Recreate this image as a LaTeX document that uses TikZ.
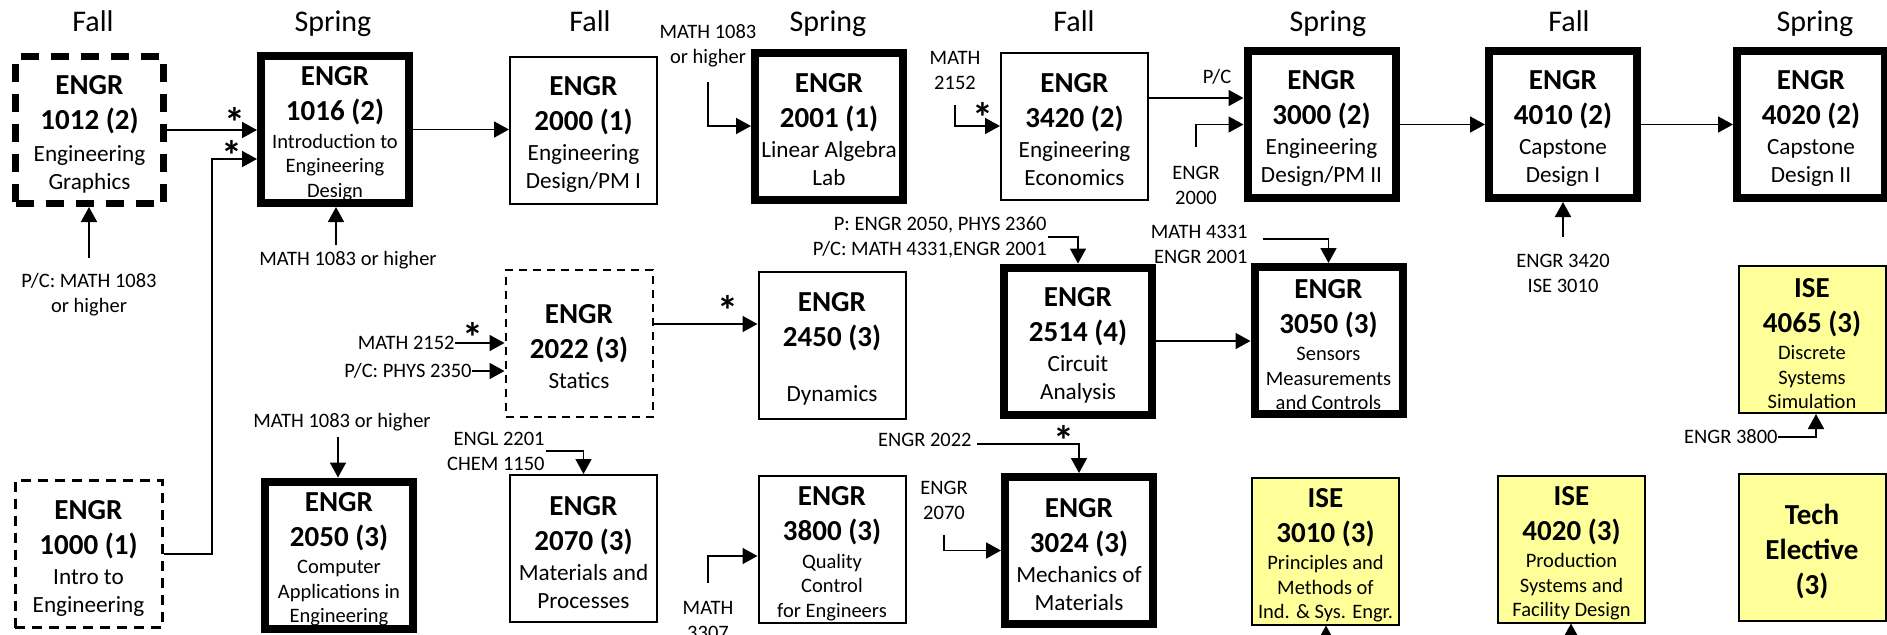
\documentclass[tikz,border=0pt]{standalone}
\usepackage{fontspec}
\setmainfont{Carlito}
\usetikzlibrary{arrows.meta,calc}
\definecolor{iseyellow}{RGB}{255,255,153}
\newcommand\ttlf{\fontsize{14.5}{17.5}\selectfont\bfseries}
\newcommand\suba{\fontsize{11.6}{14}\selectfont\mdseries}
\newcommand\subb{\fontsize{10.25}{12.25}\selectfont\mdseries}
\newcommand\bxt[1]{\raisebox{-2pt}[\height][\depth]{\parbox{72pt}{\centering #1\par}}}
\newcommand\gapa{\par\vspace{1pt}}
\newcommand\gapb{\par\vspace{1.5pt}}
\tikzset{
  box/.style={draw, minimum width=73.5pt, minimum height=73.5pt, inner sep=0pt, line width=1pt},
  heavybox/.style={box, line width=4pt, minimum width=74pt},
  isebox/.style={box, fill=iseyellow},
  dashheavy/.style={box, line width=3.5pt, minimum width=74pt, dash pattern=on 9pt off 6pt},
  dashmid/.style={box, line width=1.5pt, dash pattern=on 5pt off 3.5pt},
  dashthin/.style={box, line width=1pt, dash pattern=on 4pt off 3pt},
  lbl/.style={inner sep=0pt, font=\fontsize{10.25}{12.5}\selectfont, align=center},
  sem/.style={inner sep=0pt, font=\fontsize{15}{18}\selectfont, anchor=base},
  arr/.style={line width=0.9pt, -{Triangle[length=7.5pt,width=8pt]}},
  astk/.style={inner sep=0pt, font=\fontsize{21}{21}\selectfont\bfseries},
}
\begin{document}
\begin{tikzpicture}[x=0.5pt,y=-0.5pt]
\useasboundingbox (0,0) rectangle (1887,634);
% semester labels
\node[sem] (s1) at (93,31.5) {Fall};
\node[sem] (s2) at (333,31.5) {Spring};
\node[sem] (s3) at (590,31.5) {Fall};
\node[sem] (s4) at (828,31.5) {Spring};
\node[sem] (s5) at (1074,31.5) {Fall};
\node[sem] (s6) at (1328,31.5) {Spring};
\node[sem] (s7) at (1569,31.5) {Fall};
\node[sem] (s8) at (1815,31.5) {Spring};
% row 1
\node[dashheavy] (e1012) at (89.5,130) {\bxt{\ttlf ENGR\par 1012 (2)\par\vspace{2pt}\suba Engineering\par Graphics}};
\node[heavybox] (e1016) at (335,129.5) {\bxt{\ttlf ENGR\par 1016 (2)\gapb\subb Introduction to\par Engineering\par Design}};
\node[box] (e2000) at (583.5,130) {\bxt{\ttlf ENGR\par 2000 (1)\gapa\suba Engineering\par Design/PM I}};
\node[heavybox] (e2001) at (829,126) {\bxt{\ttlf ENGR\par 2001 (1)\gapa\suba Linear Algebra\par Lab}};
\node[box] (e3420) at (1074.5,126) {\bxt{\ttlf ENGR\par 3420 (2)\gapa\suba Engineering\par Economics}};
\node[heavybox] (e3000) at (1321.5,124.5) {\bxt{\ttlf ENGR\par 3000 (2)\gapa\suba Engineering\par Design/PM II}};
\node[heavybox] (e4010) at (1563,124.5) {\bxt{\ttlf ENGR\par 4010 (2)\gapa\suba Capstone\par Design I}};
\node[heavybox] (e4020) at (1811,124) {\bxt{\ttlf ENGR\par 4020 (2)\gapa\suba Capstone\par Design II}};
% row 2
\node[dashthin] (e2022) at (579,343) {\bxt{\ttlf ENGR\par 2022 (3)\gapa\suba Statics}};
\node[box] (e2450) at (832,345) {\bxt{\ttlf ENGR\par 2450 (3)\par\vspace{13.5pt}\suba Dynamics}};
\node[heavybox] (e2514) at (1078,341) {\bxt{\ttlf ENGR\par 2514 (4)\gapa\suba Circuit\par Analysis}};
\node[heavybox] (e3050) at (1328.5,340.5) {\bxt{\ttlf ENGR\par 3050 (3)\gapb\subb Sensors\par Measurements\par and Controls}};
\node[isebox] (i4065) at (1812,339.5) {\bxt{\ttlf ISE\par 4065 (3)\gapb\subb Discrete\par Systems\par Simulation}};
% row 3
\node[dashmid] (e1000) at (88.5,554) {\bxt{\ttlf ENGR\par 1000 (1)\gapa\suba Intro to\par Engineering}};
\node[heavybox] (e2050) at (339,555) {\bxt{\ttlf ENGR\par 2050 (3)\gapb\subb Computer\par Applications in\par Engineering}};
\node[box] (e2070) at (583.5,548.5) {\bxt{\ttlf ENGR\par 2070 (3)\gapa\suba Materials and\par Processes}};
\node[box] (e3800) at (832,549.5) {\bxt{\ttlf ENGR\par 3800 (3)\gapb\subb Quality\par Control\par for Engineers}};
\node[heavybox] (e3024) at (1079,550.5) {\bxt{\ttlf ENGR\par 3024 (3)\gapa\suba Mechanics of\par Materials}};
\node[isebox] (i3010) at (1325.5,551) {\bxt{\ttlf ISE\par 3010 (3)\gapb\subb Principles and\par Methods of\par Ind. \& Sys. Engr.}};
\node[isebox] (i4020) at (1571.5,549) {\bxt{\ttlf ISE\par 4020 (3)\gapb\subb Production\par Systems and\par Facility Design}};
\node[isebox] (tech) at (1812,547.5) {\bxt{\ttlf Tech\par Elective\par (3)}};
% labels
\node[lbl] (l1012) at (89,295) {P/C: MATH 1083\\or higher};
\node[lbl] (l1016) at (348,260) {MATH 1083 or higher};
\node[lbl] (l2001) at (708,46) {MATH 1083\\or higher};
\node[lbl] (l3420) at (955,70) {MATH\\2152};
\node[lbl] (lpc) at (1217,77) {P/C};
\node[lbl] (l3000) at (1196,185) {ENGR\\2000};
\node[lbl] (l4010) at (1563,273) {ENGR 3420\\ISE 3010};
\node[lbl, align=right, anchor=east] (l2514) at (1047,237) {P: ENGR 2050, PHYS 2360\\P/C: MATH 4331,ENGR 2001};
\node[lbl, align=right, anchor=east] (l3050) at (1248,244) {MATH 4331\\ENGR 2001};
\node[lbl, anchor=east] (lm2152) at (455,343) {MATH 2152};
\node[lbl, anchor=east] (lphys) at (472,371) {P/C: PHYS 2350};
\node[lbl] (l2050) at (342,422) {MATH 1083 or higher};
\node[lbl, align=right, anchor=east] (l2070) at (545,451) {ENGL 2201\\CHEM 1150};
\node[lbl] (l3800) at (708,620) {MATH\\3307};
\node[lbl, anchor=east] (l3024a) at (972,440) {ENGR 2022};
\node[lbl] (l3024b) at (944,500) {ENGR\\2070};
\node[lbl, anchor=east] (l4065) at (1778,437) {ENGR 3800};
% stars
\node[astk] (k1) at (235,122) {*};
\node[astk] (k2) at (232,155) {*};
\node[astk] (k3) at (983,117) {*};
\node[astk] (k4) at (473,337) {*};
\node[astk] (k5) at (728,310) {*};
\node[astk] (k6) at (1064,440) {*};
% free ends
\coordinate (p1) at (89,258);
\coordinate (p2) at (336,245);
\coordinate (p3) at (708,82);
\coordinate (p4) at (955,105);
\coordinate (p5) at ($(e3420.east)+(0,-28)$);
\coordinate (p6) at (1196,147);
\coordinate (p7) at (1563,237);
\coordinate (p8) at (1048,237);
\coordinate (p9) at (1263,239);
\coordinate (p10) at ($(e2022.east)+(0,-19)$);
\coordinate (p11) at (338,437);
\coordinate (p12) at (546,451);
\coordinate (p13) at (708,583);
\coordinate (p14) at (977,444);
\coordinate (p15) at (944,535);
\coordinate (p16) at (1326,660);
\coordinate (p17) at (1571,660);
\coordinate (q1) at (212,159);
% connectors
\draw[arr] (e1012.east) -- (e1012.east -| e1016.west);
\draw[arr] (e1000.east) -| (q1) -- (q1 -| e1016.west);
\draw[arr] (p1) -- (p1 |- e1012.south);
\draw[arr] (p2) -- (p2 |- e1016.south);
\draw[arr] (e1016.east) -- (e1016.east -| e2000.west);
\draw[arr] (p3) |- (e2001.west);
\draw[arr] (p4) |- (e3420.west);
\draw[arr] (p5) -- (p5 -| e3000.west);
\draw[arr] (p6) |- (e3000.west);
\draw[arr] (e3000.east) -- (e3000.east -| e4010.west);
\draw[arr] (e4010.east) -- (e4010.east -| e4020.west);
\draw[arr] (p7) -- (p7 |- e4010.south);
\draw[arr] (p8) -| (e2514.north);
\draw[arr] (p9) -| (e3050.north);
\draw[arr] (lm2152.east) -- (lm2152.east -| e2022.west);
\draw[arr] (lphys.east) -- (lphys.east -| e2022.west);
\draw[arr] (p10) -- (p10 -| e2450.west);
\draw[arr] (e2514.east) -- (e2514.east -| e3050.west);
\draw[arr] (p11) -- (p11 |- e2050.north);
\draw[arr] (p12) -| (e2070.north);
\draw[arr] (p13) |- ($(e3800.west)+(0,6.5)$);
\draw[arr] (p14) -| (e3024.north);
\draw[arr] (p15) |- (e3024.west);
\draw[arr] (p16) -- (p16 |- i3010.south);
\draw[arr] (p17) -- (p17 |- i4020.south);
\draw[arr] (l4065.east) -| ($(i4065.south)+(4,0)$);
\end{tikzpicture}
\end{document}
